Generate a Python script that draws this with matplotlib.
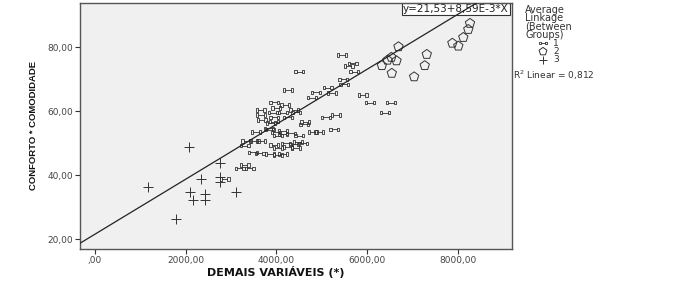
import matplotlib
matplotlib.use("Agg")
import matplotlib.pyplot as plt
from matplotlib.path import Path
import numpy as np

plt.rcParams['font.family'] = ['DejaVu Sans']

# Group 1 (Average Linkage cluster 1)
g1_x = [5444, 5677, 5590, 5715, 4506, 5473, 5495, 5128, 4249, 4873, 5225, 4785, 5897, 6060,
        6521, 6396, 3956, 4198, 4000, 3649, 3919, 4139, 4396, 4440, 3664, 3956, 4249, 3671,
        3945, 5093, 5313, 4638, 4616, 3831, 5275, 3554, 3847, 3994, 4139, 4139, 4029, 4324,
        4506, 4798, 4946, 3334, 3517, 3664, 3297, 3956, 4029, 4214, 4249, 4396, 4469, 4433,
        4579, 3480, 3627, 3862, 4029, 4139, 3297, 3187, 3407, 2857, 3884]
g1_y = [77.5, 74.9, 74.1, 72.3, 72.3, 69.9, 68.3, 67.3, 66.6, 65.8, 65.7, 64.2, 65.0, 62.6,
        62.6, 59.5, 62.7, 61.9, 61.0, 60.3, 59.5, 59.5, 60.3, 59.6, 58.75, 58.0, 58.0, 57.2,
        56.7, 58.0, 58.7, 56.5, 55.8, 54.6, 54.3, 53.5, 54.2, 53.3, 53.75, 52.7, 52.3, 53.0,
        52.3, 53.5, 53.5, 50.6, 50.6, 50.6, 49.2, 49.4, 48.5, 49.9, 48.8, 49.6, 50.4, 48.5,
        49.9, 47.1, 46.8, 46.5, 46.25, 46.5, 43.1, 42.1, 42.1, 38.75, 56.3]

# Group 2
g2_x = [8264, 8227, 8117, 7876, 8007, 6688, 7312, 6532, 6447, 6645, 6323, 7267, 6541, 7033]
g2_y = [87.4, 85.5, 83.0, 81.2, 80.3, 80.1, 77.7, 76.8, 75.9, 75.7, 74.2, 74.2, 71.8, 70.7]

# Group 3
g3_x = [2073, 2763, 2330, 2748, 2748, 1172, 2088, 2418, 3115, 2161, 2418, 1796]
g3_y = [48.66, 43.8, 38.75, 39.5, 37.9, 36.2, 34.6, 34.1, 34.6, 32.2, 32.2, 26.25]

intercept = 21.53
slope = 8.59e-3
r2_text = "R$^2$ Linear = 0,812"
eq_text = "y=21,53+8,59E-3*X"
legend_title = "Average\nLinkage\n(Between\nGroups)"
group_labels = ["1", "2", "3"]

x_ticks = [0, 2000, 4000, 6000, 8000]
x_tick_labels = [",00", "2000,00", "4000,00", "6000,00", "8000,00"]
y_ticks = [20, 40, 60, 80]
y_tick_labels = ["20,00", "40,00", "60,00", "80,00"]

# custom "dumbbell" marker for group 1
verts = [(-1, -0.35), (-1, 0.35), (-0.55, 0.35), (-0.55, -0.35), (-1, -0.35),
         (-0.55, 0), (0.55, 0),
         (0.55, -0.35), (0.55, 0.35), (1, 0.35), (1, -0.35), (0.55, -0.35)]
codes = [Path.MOVETO, Path.LINETO, Path.LINETO, Path.LINETO, Path.CLOSEPOLY,
         Path.MOVETO, Path.LINETO,
         Path.MOVETO, Path.LINETO, Path.LINETO, Path.LINETO, Path.CLOSEPOLY]
dumbbell = Path(verts, codes)

fig = plt.figure(figsize=(6.84, 2.84), dpi=100)
ax = fig.add_axes([80/684, 35/284, 432/684, 246/284])
ax.set_facecolor('#f0f0f0')

xmin, xmax = -330, 9190
ymin, ymax = 16.9, 93.75
ax.set_xlim(xmin, xmax)
ax.set_ylim(ymin, ymax)

ec = '#333333'
ax.scatter(g1_x, g1_y, marker=dumbbell, s=52, facecolors='none', edgecolors=ec, linewidths=0.6, zorder=3)
ax.scatter(g2_x, g2_y, marker='p', s=50, facecolors='none', edgecolors=ec, linewidths=0.7, zorder=3)
ax.scatter(g3_x, g3_y, marker='+', s=48, color=ec, linewidths=0.7, zorder=3)

lx = np.array([xmin, xmax])
ax.plot(lx, intercept + slope * lx, color='#222222', lw=0.9, zorder=4)

ax.text(0.992, 0.995, eq_text, transform=ax.transAxes, ha='right', va='top', fontsize=7.5,
        color='#222222', zorder=2,
        bbox=dict(boxstyle='square,pad=0.12', fc='white', ec='#333333', lw=0.8))

ax.set_xticks(x_ticks)
ax.set_xticklabels(x_tick_labels)
ax.set_yticks(y_ticks)
ax.set_yticklabels(y_tick_labels)
ax.tick_params(axis='both', direction='out', length=3.5, width=0.8, colors='#333333',
               labelsize=6.5, labelcolor='#444444', pad=1.5)
for s in ax.spines.values():
    s.set_color('#555555')
    s.set_linewidth(1.0)

fig.text(276/684, 1 - 272/284, "DEMAIS VARIÁVEIS (*)", ha='center', va='center',
         fontsize=8, fontweight='bold', color='#111111')
fig.text(33/684, 1 - 125/284, "CONFORTO * COMODIDADE", ha='center', va='center',
         rotation=90, fontsize=6.8, fontweight='bold', color='#111111',
         family=['Liberation Sans Narrow', 'Liberation Sans', 'DejaVu Sans'])

# legend (outside right)
fig.text(525/684, 1 - 5/284, legend_title, ha='left', va='top',
         fontsize=7, color='#333333', linespacing=0.8)
lax = fig.add_axes([530/684, 1 - 64/284, 40/684, 25/284])
lax.set_xlim(0, 40)
lax.set_ylim(0, 3)
lax.axis('off')
lax.scatter([13], [2.5], marker=dumbbell, s=30, facecolors='none', edgecolors=ec, linewidths=0.6)
lax.scatter([13], [1.5], marker='p', s=35, facecolors='none', edgecolors=ec, linewidths=0.7)
lax.scatter([13], [0.5], marker='+', s=40, color=ec, linewidths=0.7)
for yy, lab in zip([2.5, 1.5, 0.5], group_labels):
    lax.text(23, yy, lab, ha='left', va='center', fontsize=6.5, color='#333333')

fig.text(513/684, 1 - 75/284, r2_text, ha='left', va='center', fontsize=6.5, color='#333333')

fig.savefig("out.png", dpi=100)
